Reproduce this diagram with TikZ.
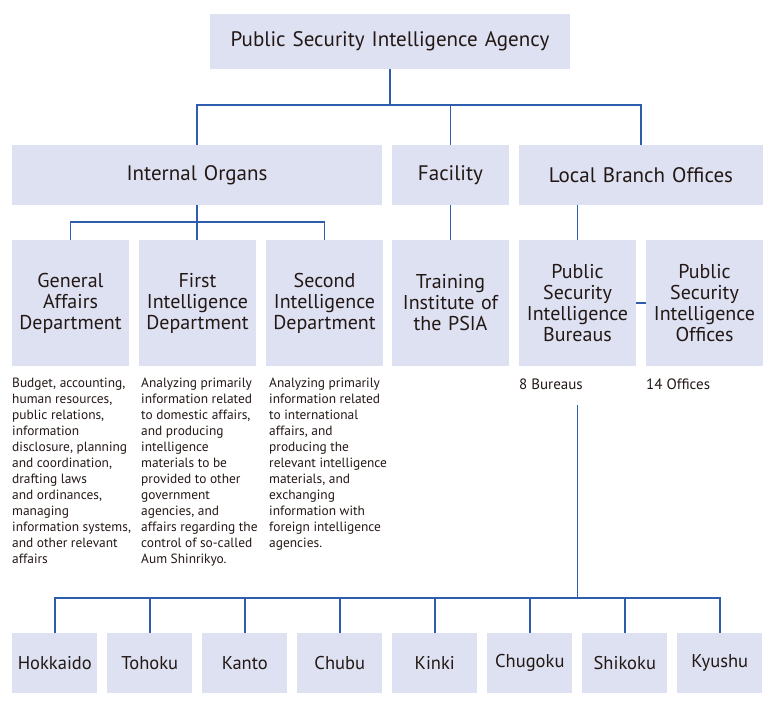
\documentclass[tikz,border=0pt]{standalone}
\usepackage{fontspec}
\setmainfont{PT Sans}[WordSpace=1.25]
\newfontfamily\descfont{PT Sans}
\definecolor{boxfill}{RGB}{221,225,241}
\definecolor{linkblue}{RGB}{47,93,174}
\definecolor{ink}{RGB}{35,24,21}
\tikzset{
  box/.style={fill=boxfill, inner sep=0pt, align=center, text=ink,
    font=\fontsize{20}{21}\selectfont},
  bigbox/.style={box, font=\fontsize{21}{22}\selectfont},
  smallbox/.style={box, font=\descfont\fontsize{18.5}{20}\selectfont},
  conn/.style={draw=linkblue, line width=1.5pt},
  desc/.style={anchor=north west, inner sep=0pt, align=left, text=ink,
    font=\descfont\fontsize{13.4}{16}\selectfont},
  count/.style={anchor=west, inner sep=0pt, text=ink,
    font=\descfont\fontsize{15}{16}\selectfont}
}
\begin{document}
\begin{tikzpicture}[x=1pt,y=-1pt]
\useasboundingbox (0,0) rectangle (775,710);
% level 0
\node[bigbox, minimum width=360pt, minimum height=55pt] (top) at (390,41.5) {Public Security Intelligence Agency};
% level 1
\node[bigbox, minimum width=370pt, minimum height=60pt] (io) at (197,175) {Internal Organs};
\node[bigbox, minimum width=117pt, minimum height=60pt] (fac) at (450.5,175) {Facility};
\node[bigbox, minimum width=244pt, minimum height=60pt] (lbo) at (641,175) {Local Branch Offices};
% level 2
\node[box, minimum width=117pt, minimum height=126pt] (ga) at (70.5,303) {General\\Affairs\\Department};
\node[box, minimum width=117pt, minimum height=126pt] (fi) at (197.5,303) {First\\Intelligence\\Department};
\node[box, minimum width=117pt, minimum height=126pt] (si) at (324.5,303) {Second\\Intelligence\\Department};
\node[box, minimum width=117pt, minimum height=126pt] (tr) at (450.5,303) {Training\\Institute of\\the PSIA};
\node[box, minimum width=117pt, minimum height=126pt] (bu) at (577.5,303) {Public\\Security\\Intelligence\\Bureaus};
\node[box, minimum width=117pt, minimum height=126pt] (of) at (704.5,303) {Public\\Security\\Intelligence\\Offices};
% descriptions
\node[desc] (dga) at (12,377.5) {Budget, accounting,\\human resources,\\public relations,\\information\\disclosure, planning\\and coordination,\\drafting laws\\and ordinances,\\managing\\information systems,\\and other relevant\\affairs};
\node[desc] (dfi) at (141,377.5) {Analyzing primarily\\information related\\to domestic affairs,\\and producing\\intelligence\\materials to be\\provided to other\\government\\agencies, and\\affairs regarding the\\control of so-called\\Aum Shinrikyo.};
\node[desc] (dsi) at (269,377.5) {Analyzing primarily\\information related\\to international\\affairs, and\\producing the\\relevant intelligence\\materials, and\\exchanging\\information with\\foreign intelligence\\agencies.};
\node[count] (nbu) at (519,384) {8 Bureaus};
\node[count] (nof) at (646,384) {14 Offices};
% level 3
\foreach \n/\t [count=\i from 0] in {h1/Hokkaido,h2/Tohoku,h3/Kanto,h4/Chubu,h5/Kinki,h6/Chugoku,h7/Shikoku,h8/Kyushu}{
  \node[smallbox, minimum width=85pt, minimum height=60pt] (\n) at (54.8+95*\i,663) {\t};
}
% connectors
\draw[conn] (top.south) -- ++(0,36);
\draw[conn] (io.north) -- ++(0,-40) -| (lbo.north);
\draw[conn] (fac.north) -- ++(0,-40);
\draw[conn] (ga.north) -- ++(0,-18) -| (si.north);
\draw[conn] (io.south) -- (io.south |- fi.north);
\draw[conn] (fac.south) -- (tr.north);
\draw[conn] (bu.north) -- (bu.north |- lbo.south);
\draw[conn] (bu.east) -- (of.west);
\coordinate (bfrom) at (577.5,405);
\coordinate (bjoin) at (577.5,598);
\draw[conn] (bfrom) -- (bjoin);
\draw[conn] (h1.north) -- ++(0,-35) -| (h8.north);
\foreach \n in {h2,h3,h4,h5,h6,h7}{
  \draw[conn] (\n.north) -- ++(0,-35);
}
\end{tikzpicture}
\end{document}
